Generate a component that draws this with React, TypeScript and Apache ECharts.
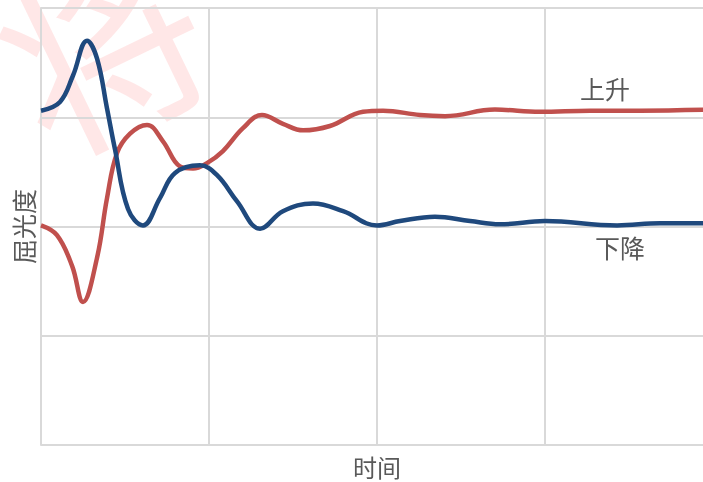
import React, { useEffect, useRef } from "react";
import * as echarts from "echarts";

const riseX = [0, 0.095, 0.185, 0.25, 0.333, 0.393, 0.452, 0.53, 0.631, 0.726, 0.827, 0.905, 0.988, 1.083, 1.202, 1.315, 1.44, 1.56, 1.72, 1.917, 2.036, 2.256, 2.405, 2.702, 2.97, 3.268, 3.565, 4.0];
const riseY = [0.01, -0.08, -0.36, -0.69, -0.29, 0.26, 0.67, 0.85, 0.93, 0.78, 0.55, 0.53, 0.58, 0.69, 0.9, 1.02, 0.94, 0.88, 0.92, 1.05, 1.06, 1.02, 1.01, 1.07, 1.05, 1.06, 1.06, 1.07];

const fallX = [0, 0.113, 0.19, 0.274, 0.333, 0.393, 0.44, 0.518, 0.607, 0.708, 0.798, 0.946, 1.048, 1.167, 1.304, 1.44, 1.619, 1.798, 2.0, 2.137, 2.345, 2.554, 2.732, 3.0, 3.429, 3.685, 4.0];
const fallY = [1.06, 1.14, 1.38, 1.70, 1.54, 1.08, 0.71, 0.16, 0.01, 0.26, 0.49, 0.56, 0.47, 0.23, -0.02, 0.14, 0.21, 0.14, 0.01, 0.05, 0.09, 0.05, 0.02, 0.05, 0.01, 0.03, 0.03];

const seriesNames = ["上升", "下降"];
const axisNames = { x: "时间", y: "屈光度" };
const watermark = "将";

export default function App() {
  const ref = useRef<HTMLDivElement>(null);
  useEffect(() => {
    if (!ref.current) return;
    const chart = echarts.init(ref.current, undefined, { renderer: "svg" });
    const font = "'Noto Sans CJK SC', sans-serif";
    const riseData: any[] = riseX.map((x, i) => [x, riseY[i]]);
    const fallData: any[] = fallX.map((x, i) => [x, fallY[i]]);
    chart.setOption({
      animation: false,
      graphic: [
        {
          type: "text",
          x: 100,
          y: 40,
          rotation: 0.45,
          z: -10,
          style: {
            text: watermark,
            font: `200px ${font}`,
            fill: "rgba(255,60,60,0.12)",
            align: "center",
            verticalAlign: "middle",
          },
        },
      ],
      grid: { left: 41, top: 8, width: 672, height: 437, outerBoundsMode: "none", containLabel: false },
      xAxis: {
        type: "value",
        min: 0,
        max: 4,
        interval: 1,
        name: axisNames.x,
        nameLocation: "middle",
        nameGap: 9,
        nameTextStyle: { fontSize: 24, lineHeight: 24, color: "#595959", fontFamily: font, verticalAlign: "top" },
        axisLine: { show: true, lineStyle: { color: "#d9d9d9", width: 2 } },
        axisTick: { show: false },
        axisLabel: { show: false },
        splitLine: { show: true, lineStyle: { color: "#d9d9d9", width: 2 } },
      },
      yAxis: {
        type: "value",
        min: -2,
        max: 2,
        interval: 1,
        name: axisNames.y,
        nameLocation: "middle",
        nameRotate: 90,
        nameGap: 5,
        nameTextStyle: { fontSize: 25, lineHeight: 26, color: "#595959", fontFamily: font },
        axisLine: { show: true, lineStyle: { color: "#d9d9d9", width: 2 } },
        axisTick: { show: false },
        axisLabel: { show: false },
        splitLine: { show: true, lineStyle: { color: "#d9d9d9", width: 2 } },
      },
      series: [
        {
          name: seriesNames[0],
          type: "line",
          smooth: 0.4,
          symbol: "none",
          data: riseData,
          lineStyle: { color: "#c0504d", width: 4.5 },
          markPoint: {
            symbol: "circle",
            symbolSize: 0,
            data: [{ coord: [3.357, 1.06] }],
            label: {
              show: true,
              formatter: seriesNames[0],
              position: "top",
              distance: 10,
              fontSize: 25,
              color: "#595959",
              fontFamily: font,
            },
          },
        },
        {
          name: seriesNames[1],
          type: "line",
          smooth: 0.4,
          symbol: "none",
          data: fallData,
          lineStyle: { color: "#1f497d", width: 4.5 },
          markPoint: {
            symbol: "circle",
            symbolSize: 0,
            data: [{ coord: [3.446, 0.02] }],
            label: {
              show: true,
              formatter: seriesNames[1],
              position: "bottom",
              distance: 10,
              fontSize: 25,
              color: "#595959",
              fontFamily: font,
            },
          },
        },
      ],
    });
    return () => chart.dispose();
  }, []);
  return <div ref={ref} style={{ width: 703, height: 482, position: "fixed", left: 0, top: 0 }} />;
}
